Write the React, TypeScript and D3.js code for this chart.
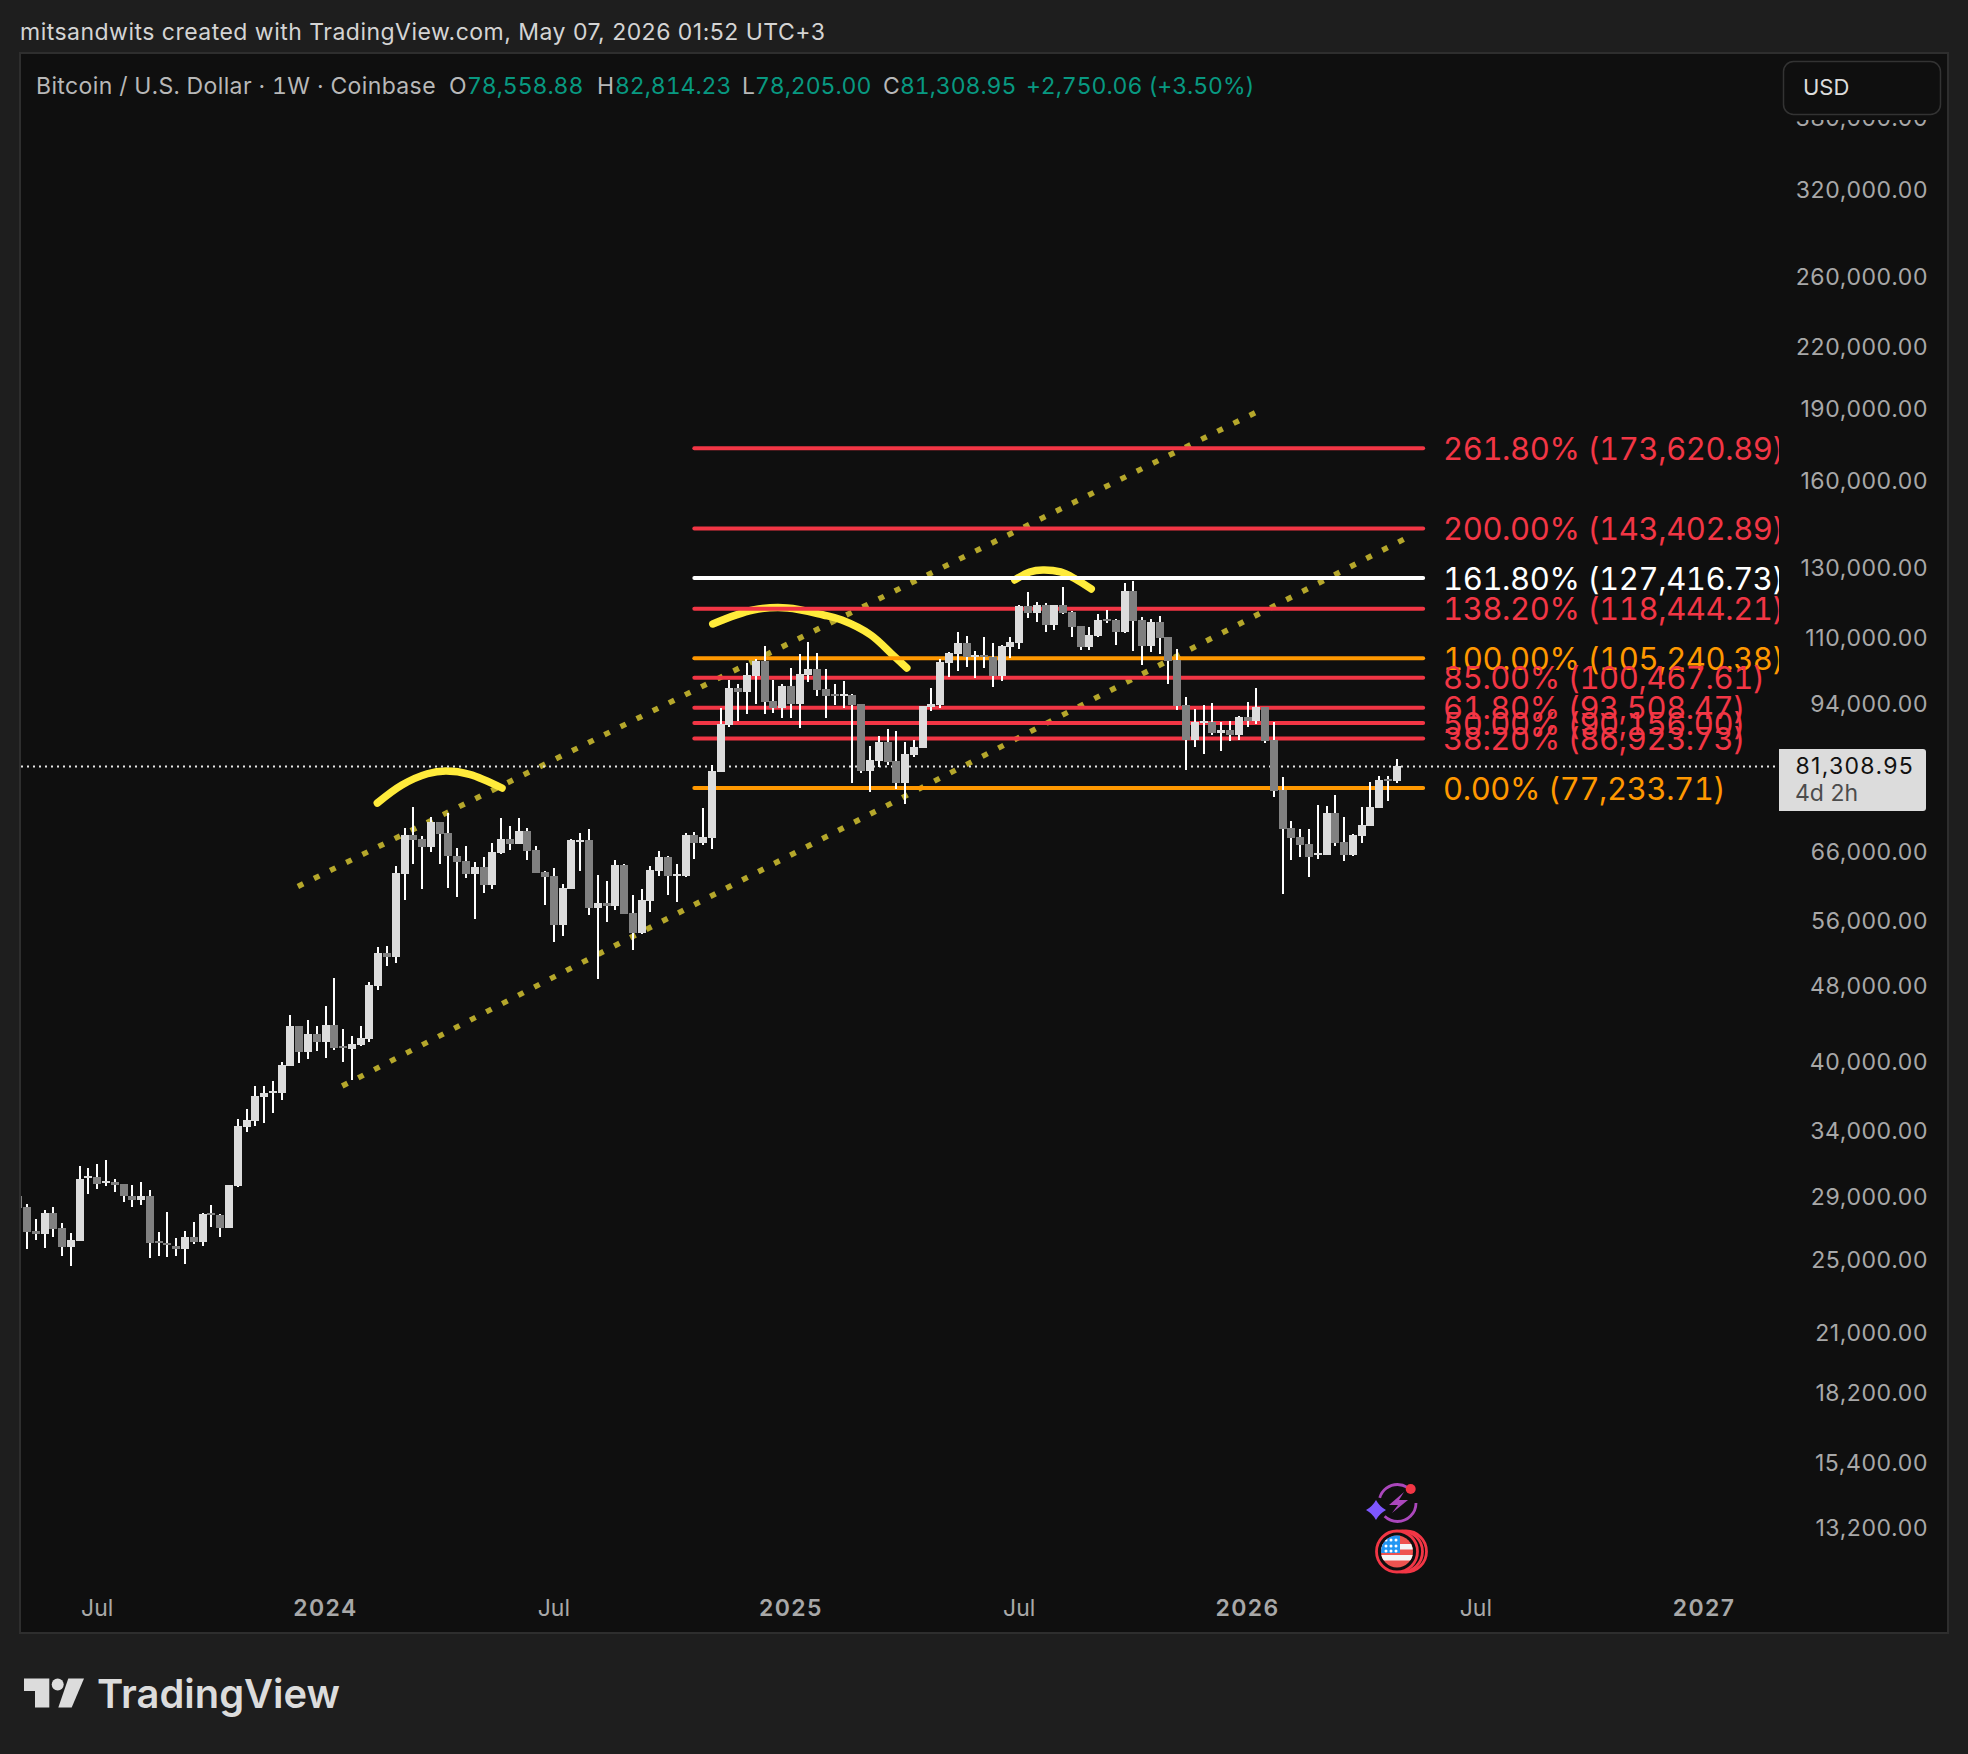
import { useEffect, useRef } from 'react';
import * as d3 from 'd3';

// weekly BTCUSD candles, first bar is the week of 2023-05-01
const opens = [
  29194, 28439, 26853, 26664, 28032, 27050, 25852, 26224, 30475, 30548,
  30112, 30183, 30041, 29194, 28915, 29194, 26224, 26100, 25914, 25722,
  26475, 26162, 28032, 27900, 27050, 29899, 34416, 34908, 36968, 37320,
  37320, 39805, 43787, 41153, 42961, 42150, 43891, 41750, 41447, 41850,
  42450, 48171, 52111, 51619, 62914, 69046, 68387, 67099, 71215, 69373,
  65674, 64889, 62914, 63974, 61286, 66139, 68387, 67579, 69701, 66619,
  63213, 62616, 55711, 60694, 68059, 68219, 58016, 58710, 58293, 64279,
  57326, 54656, 58990, 63364, 65518, 62616, 62616, 69046, 67739, 68554,
  80242, 89752, 98030, 97093, 100875, 104538, 95029, 93465, 98499, 94359,
  101115, 102555, 97779, 96635, 96178, 96406, 94359, 80421, 82358, 86187,
  82358, 78157, 83561, 84963, 93690, 94135, 104047, 106306, 109133, 105551,
  106057, 105551, 100875, 108098, 109133, 119199, 117220, 119484, 113920, 119484,
  117497, 113648, 108098, 110970, 115555, 115270, 112026, 123527, 115270, 108355,
  114737, 110706, 104794, 94135, 86587, 90178, 90391, 88053, 88680, 87637,
  91480, 90604, 93690, 86587, 76860, 70208, 68717, 67579, 65830, 65830,
  72761, 67900, 65830, 68882, 70543, 73637, 78908, 78558.88,
];
const highs = [
  29400, 28643, 27635, 28230, 28439, 27375, 26727, 31360, 31210, 31510,
  31810, 30396, 30041, 29970, 30183, 29607, 26790, 28098, 26412, 26853,
  27440, 28032, 28575, 27966, 29970, 35072, 35918, 37950, 37950, 38400,
  40186, 44952, 43787, 44411, 43787, 45926, 49098, 43471, 42757, 43787,
  48631, 52864, 52990, 64126, 70208, 73813, 68882, 72074, 71215, 72761,
  66939, 67259, 64736, 65518, 67739, 71902, 70543, 71902, 70208, 67259,
  63364, 63821, 61431, 68387, 69373, 70029, 62765, 61868, 65050, 64431,
  59848, 60694, 64126, 66459, 65674, 64431, 69373, 69537, 73637, 81587,
  93465, 99904, 98967, 104047, 105046, 108355, 99904, 98967, 102818, 106306,
  109386, 106557, 102555, 98967, 99670, 96635, 94359, 85369, 87429, 88885,
  88469, 86187, 86600, 93912, 98030, 105046, 106810, 112026, 110970, 107065,
  110706, 109133, 108614, 110706, 119484, 123244, 120342, 120055, 119484, 124725,
  117775, 113648, 113377, 116943, 118065, 115555, 125913, 126507, 116112, 115555,
  116390, 110706, 107564, 95950, 93243, 94135, 94580, 90391, 90604, 91700,
  94805, 98030, 93690, 90391, 79290, 71390, 70029, 70029, 74170, 73990,
  75950, 72074, 69209, 73813, 78350, 79480, 79480, 82814.23,
];
const lows = [
  28032, 25722, 26286, 25790, 26475, 25302, 24707, 26224, 29331, 29676,
  29899, 29469, 28779, 28439, 28575, 25182, 25302, 25242, 25302, 24825,
  26038, 25914, 27115, 26475, 27050, 29828, 34005, 34498, 34744, 35582,
  36699, 39805, 40090, 40470, 41250, 40571, 41347, 40186, 38490, 41750,
  42150, 47707, 50522, 50882, 59125, 64431, 60694, 66299, 64431, 60850,
  59558, 62318, 56504, 60126, 60694, 65987, 66619, 67579, 65050, 63063,
  58436, 53494, 54270, 60694, 63364, 57055, 48972, 56107, 57732, 57197,
  52481, 54527, 57469, 62616, 59848, 58845, 62467, 65206, 67419, 66768,
  80242, 89326, 90604, 92135, 94359, 92135, 92353, 91263, 91263, 89113,
  99436, 96178, 91263, 94135, 93465, 78157, 80043, 76496, 81200, 81587,
  77050, 74341, 83160, 84963, 92798, 93465, 100635, 102075, 103064, 100395,
  102818, 98264, 99670, 105299, 107564, 115836, 114737, 112026, 112570, 116943,
  110706, 107312, 107312, 110706, 114459, 108614, 111760, 107065, 103555, 106810,
  106306, 98967, 93020, 80620, 85167, 83760, 87637, 84360, 86400, 86587,
  89326, 89965, 85975, 75595, 59980, 65050, 65518, 62467, 65206, 65830,
  67259, 64889, 65674, 67739, 70543, 73637, 74880, 78205.0,
];
const closes = [
  28371, 26790, 26664, 28032, 26979, 25852, 26286, 30396, 30621, 30041,
  30254, 29970, 29194, 28915, 29194, 26100, 26100, 25976, 25722, 26475,
  26162, 27966, 27900, 27050, 29970, 34498, 34990, 37056, 37320, 37496,
  39900, 43787, 41153, 42961, 42150, 43891, 41550, 41550, 41950, 42553,
  48286, 52111, 51619, 63063, 69046, 68219, 67099, 71215, 69209, 65674,
  64736, 62914, 63974, 61286, 66299, 68387, 67579, 69701, 66459, 63063,
  62467, 55711, 60850, 68219, 68300, 58016, 58710, 58293, 64279, 57197,
  54656, 59125, 63517, 65518, 62616, 62914, 69046, 67739, 68717, 80421,
  89965, 98030, 97093, 101115, 104538, 94805, 93465, 98499, 94359, 101355,
  102555, 97550, 96178, 96178, 96635, 94135, 80421, 82555, 86187, 82161,
  78157, 83760, 85167, 93912, 94359, 104290, 106557, 109133, 105551, 106057,
  105551, 100875, 108355, 109386, 119199, 117220, 119484, 113920, 119484, 117220,
  113377, 108098, 111234, 115270, 114990, 112026, 123527, 114990, 108355, 114737,
  110442, 104538, 93912, 86587, 90391, 90604, 88053, 88680, 87637, 91480,
  90604, 93690, 86400, 76676, 70029, 68554, 67419, 65518, 66139, 72761,
  67739, 65830, 69046, 70710, 73813, 78720, 78558.88, 81308.95,
];

const lastPrice = 81308.95;

const priceTicks = [
  380000, 320000, 260000, 220000, 190000, 160000, 130000, 110000, 94000, 66000,
  56000, 48000, 40000, 34000, 29000, 25000, 21000, 18200, 15400, 13200,
];

const timeTickDates = ['2023-07-03', '2024-01-01', '2024-07-01', '2025-01-06', '2025-07-07', '2026-01-05', '2026-07-06', '2027-01-04'];
const timeTickLabels = ['Jul', '2024', 'Jul', '2025', 'Jul', '2026', 'Jul', '2027'];

const fibRatios = ['261.80', '200.00', '161.80', '138.20', '100.00', '85.00', '61.80', '50.00', '38.20', '0.00'];
const fibPrices = [173620.89, 143402.89, 127416.73, 118444.21, 105240.38, 100467.61, 93508.47, 90156.0, 86923.73, 77233.71];
const fibColors = ['#f23645', '#f23645', '#ffffff', '#f23645', '#ff9800', '#f23645', '#f23645', '#f23645', '#f23645', '#ff9800'];
const fibStartBar = 77;
const fibEndBar = 160;

// drawings, as [bar number, price]
const channelUpper: [number, number][] = [[31.85, 61070], [141.5, 190200]];
const channelLower: [number, number][] = [[36.9, 37950], [158.0, 140050]];
const brushLeft: [number, number][] = [[40.9, 74517], [43.7, 77790], [46.6, 79900], [48.7, 80430], [51.4, 79800], [55.1, 77234]];
const brushMiddle: [number, number][] = [[79.1, 114188], [83.7, 118065], [87.6, 118650], [91.7, 116660], [93.8, 115270], [97.1, 111234], [99.6, 106057], [101.2, 102818]];
const brushRight: [number, number][] = [[113.5, 126830], [115.2, 129260], [116.7, 129875], [118.7, 129260], [120.4, 127120], [122.2, 124130]];

const legendParts: [string, number, string][] = [
  ['Bitcoin / U.S. Dollar · 1W · Coinbase', 36, '#b8b8b8'],
  ['O', 449, '#b8b8b8'], ['78,558.88', 467, '#089981'],
  ['H', 597, '#b8b8b8'], ['82,814.23', 615, '#089981'],
  ['L', 742, '#b8b8b8'], ['78,205.00', 755, '#089981'],
  ['C', 883, '#b8b8b8'], ['81,308.95', 900, '#089981'],
  ['+2,750.06 (+3.50%)', 1026, '#089981'],
];

const FONT = 'Inter, "Noto Sans", sans-serif';
const W = 1968;
const H = 1754;
const firstWeek = Date.UTC(2023, 4, 1);
const WEEK = 7 * 24 * 3600 * 1000;

export default function App() {
  const svgRef = useRef<SVGSVGElement>(null);

  useEffect(() => {
    if (!svgRef.current) return;
    const svg = d3.select(svgRef.current);
    svg.selectAll('*').remove();

    const panel = { left: 21, right: 1947, top: 54, bottom: 1632 };
    const plotRight = 1779;

    const x = d3.scaleUtc()
      .domain([new Date(firstWeek), new Date(firstWeek + 157 * WEEK)])
      .range([18.2, 1396.8]);
    const y = d3.scaleLog()
      .domain([fibPrices[9], fibPrices[2]])
      .range([788, 578]);
    const xBar = (b: number) => x(new Date(firstWeek + b * WEEK));

    svg.append('rect').attr('width', W).attr('height', H).attr('fill', '#1e1e1e');
    svg.append('rect')
      .attr('x', panel.left - 1).attr('y', panel.top - 1)
      .attr('width', panel.right - panel.left + 2).attr('height', panel.bottom - panel.top + 2)
      .attr('fill', '#0f0f0f').attr('stroke', '#2e2e2e').attr('stroke-width', 2);

    const defs = svg.append('defs');
    defs.append('clipPath').attr('id', 'plot-clip').append('rect')
      .attr('x', panel.left).attr('y', panel.top)
      .attr('width', plotRight - panel.left).attr('height', panel.bottom - panel.top);
    defs.append('clipPath').attr('id', 'axis-clip').append('rect')
      .attr('x', plotRight).attr('y', 120)
      .attr('width', panel.right - plotRight).attr('height', panel.bottom - 120);
    defs.append('clipPath').attr('id', 'flag-clip').append('circle')
      .attr('cx', 1397).attr('cy', 1551.5).attr('r', 16);

    // header
    svg.append('text').attr('x', 20).attr('y', 32)
      .attr('dominant-baseline', 'central')
      .attr('font-family', FONT).attr('font-size', 23).attr('letter-spacing', 0.48)
      .attr('fill', '#d4d4d4')
      .text('mitsandwits created with TradingView.com, May 07, 2026 01:52 UTC+3');

    svg.append('g').selectAll('text').data(legendParts).join('text')
      .attr('x', d => d[1]).attr('y', 86)
      .attr('dominant-baseline', 'central')
      .attr('font-family', FONT).attr('font-size', 23)
      .attr('letter-spacing', d => (d[0].startsWith('Bitcoin') ? 0.37 : -0.05))
      .style('font-variant-numeric', 'tabular-nums')
      .attr('fill', d => d[2])
      .text(d => d[0]);

    const plot = svg.append('g').attr('clip-path', 'url(#plot-clip)');

    // dotted channel lines
    const straight = d3.line<[number, number]>().x(d => xBar(d[0])).y(d => y(d[1]));
    [channelUpper, channelLower].forEach(pts => {
      plot.append('path')
        .attr('d', straight(pts))
        .attr('fill', 'none')
        .attr('stroke', '#b5a72b')
        .attr('stroke-width', 5.5)
        .attr('stroke-dasharray', '6 12');
    });

    // yellow brush strokes
    const brush = d3.line<[number, number]>()
      .x(d => xBar(d[0])).y(d => y(d[1]))
      .curve(d3.curveCatmullRom);
    [brushLeft, brushMiddle, brushRight].forEach(pts => {
      plot.append('path')
        .attr('d', brush(pts))
        .attr('fill', 'none')
        .attr('stroke', '#ffeb3b')
        .attr('stroke-width', 7.5)
        .attr('stroke-linecap', 'round')
        .attr('stroke-linejoin', 'round');
    });

    // last price line
    plot.append('line')
      .attr('x1', panel.left).attr('x2', plotRight)
      .attr('y1', y(lastPrice)).attr('y2', y(lastPrice))
      .attr('stroke', '#e6e6e6').attr('stroke-width', 2)
      .attr('stroke-dasharray', '2 4');

    // fib levels
    plot.append('g').selectAll('line').data(fibPrices).join('line')
      .attr('x1', xBar(fibStartBar)).attr('x2', xBar(fibEndBar))
      .attr('y1', d => y(d)).attr('y2', d => y(d))
      .attr('stroke', (_, i) => fibColors[i])
      .attr('stroke-width', 4)
      .attr('stroke-linecap', 'round');

    plot.append('g').selectAll('text').data(fibPrices).join('text')
      .attr('x', 1443).attr('y', d => y(d))
      .attr('dominant-baseline', 'central')
      .attr('font-family', FONT).attr('font-size', 31).attr('letter-spacing', -0.4)
      .style('font-variant-numeric', 'tabular-nums')
      .attr('fill', (_, i) => fibColors[i])
      .text((d, i) => `${fibRatios[i]}% (${d3.format(',.2f')(d)})`);

    // candles
    const bars = d3.range(opens.length);
    const candles = plot.append('g').attr('shape-rendering', 'crispEdges');
    candles.selectAll('rect.wick').data(bars).join('rect')
      .attr('class', 'wick')
      .attr('x', i => Math.round(xBar(i)) - 1).attr('width', 2)
      .attr('y', i => Math.round(y(highs[i])))
      .attr('height', i => Math.max(1, Math.round(y(lows[i])) - Math.round(y(highs[i]))))
      .attr('fill', '#ffffff');
    candles.selectAll('rect.body').data(bars).join('rect')
      .attr('class', 'body')
      .attr('x', i => Math.round(xBar(i)) - 4).attr('width', 8)
      .attr('y', i => Math.round(y(Math.max(opens[i], closes[i]))))
      .attr('height', i => Math.max(2, Math.round(y(Math.min(opens[i], closes[i]))) - Math.round(y(Math.max(opens[i], closes[i])))))
      .attr('fill', i => (closes[i] >= opens[i] ? '#dcdcdc' : '#808080'));

    // price axis
    svg.append('g').attr('clip-path', 'url(#axis-clip)')
      .selectAll('text').data(priceTicks).join('text')
      .attr('x', 1928).attr('y', d => y(d) - 1.5)
      .attr('text-anchor', 'end')
      .attr('dominant-baseline', 'central')
      .attr('font-family', FONT).attr('font-size', 23).attr('letter-spacing', 0.6)
      .attr('fill', '#a8a8a8')
      .text(d => d3.format(',.2f')(d));

    // last price tag
    svg.append('path')
      .attr('d', 'M1779,749H1923a3,3 0 0 1 3,3V808a3,3 0 0 1 -3,3H1779Z')
      .attr('fill', '#dcdcdc');
    svg.append('text').attr('x', 1914).attr('y', 766)
      .attr('text-anchor', 'end').attr('dominant-baseline', 'central')
      .attr('font-family', FONT).attr('font-size', 23).attr('letter-spacing', 1.3).attr('fill', '#111111')
      .text(d3.format(',.2f')(lastPrice));
    svg.append('text').attr('x', 1795).attr('y', 793)
      .attr('dominant-baseline', 'central')
      .attr('font-family', FONT).attr('font-size', 23).attr('fill', '#4c4c4c')
      .text('4d 2h');

    // currency box
    svg.append('rect')
      .attr('x', 1783.5).attr('y', 61.5).attr('width', 157).attr('height', 53).attr('rx', 10)
      .attr('fill', '#0f0f0f').attr('stroke', '#333333').attr('stroke-width', 1.5);
    svg.append('text').attr('x', 1803).attr('y', 87)
      .attr('dominant-baseline', 'central')
      .attr('font-family', FONT).attr('font-size', 22).attr('fill', '#dcdcdc')
      .text('USD');

    // time axis
    svg.append('g').selectAll('text').data(timeTickDates).join('text')
      .attr('x', d => x(new Date(d + 'T00:00:00Z'))).attr('y', 1608)
      .attr('text-anchor', 'middle')
      .attr('dominant-baseline', 'central')
      .attr('font-family', FONT).attr('font-size', 23)
      .attr('font-weight', (_, i) => (timeTickLabels[i] === 'Jul' ? 400 : 600))
      .attr('letter-spacing', (_, i) => (timeTickLabels[i] === 'Jul' ? 0 : 1.4))
      .attr('fill', '#a8a8a8')
      .text((_, i) => timeTickLabels[i]);

    // event icons at the bottom of the plot
    const icons = svg.append('g');
    icons.append('circle').attr('cx', 1397.5).attr('cy', 1503).attr('r', 18.5)
      .attr('fill', 'none').attr('stroke', '#ab47bc').attr('stroke-width', 2.8)
      .attr('stroke-dasharray', '43 20 34 19');
    icons.append('path').attr('d', 'M1404,1492L1389,1505L1398,1505L1392,1513L1408,1500L1399,1500Z')
      .attr('fill', '#ab47bc');
    icons.append('circle').attr('cx', 1410.7).attr('cy', 1489).attr('r', 5).attr('fill', '#f23645');
    icons.append('path').attr('d', 'M1376,1500Q1379.5,1506.5 1386,1510Q1379.5,1513.5 1376,1520Q1372.5,1513.5 1366,1510Q1372.5,1506.5 1376,1500Z')
      .attr('fill', '#7e57ff');
    icons.append('circle').attr('cx', 1406).attr('cy', 1551.5).attr('r', 20.5)
      .attr('fill', '#0f0f0f').attr('stroke', '#f23645').attr('stroke-width', 2.8);
    icons.append('circle').attr('cx', 1402).attr('cy', 1551.5).attr('r', 20.5)
      .attr('fill', '#0f0f0f').attr('stroke', '#f23645').attr('stroke-width', 2.8);
    icons.append('circle').attr('cx', 1397).attr('cy', 1551.5).attr('r', 20.5)
      .attr('fill', '#0f0f0f').attr('stroke', '#f23645').attr('stroke-width', 2.8);
    const flag = icons.append('g').attr('clip-path', 'url(#flag-clip)');
    flag.append('rect').attr('x', 1381).attr('y', 1535).attr('width', 32).attr('height', 33).attr('fill', '#ef5350');
    [1544, 1555].forEach(sy => {
      flag.append('rect').attr('x', 1381).attr('y', sy).attr('width', 32).attr('height', 5.5).attr('fill', '#f5f5f5');
    });
    flag.append('rect').attr('x', 1381).attr('y', 1535).attr('width', 19).attr('height', 18).attr('fill', '#2196f3');
    [1540, 1546, 1551].forEach(sy => {
      [1386, 1391, 1396].forEach(sx => {
        flag.append('circle').attr('cx', sx).attr('cy', sy).attr('r', 1.5).attr('fill', '#ffffff');
      });
    });

    // footer logo
    const logo = svg.append('g').attr('fill', '#dcdcdc');
    logo.append('path').attr('d', 'M24,1678.5H49.3V1707.5H35V1691H24Z');
    logo.append('circle').attr('cx', 57.7).attr('cy', 1684.5).attr('r', 6);
    logo.append('path').attr('d', 'M68.3,1678.5H84L71.7,1707.5H58.3Z');
    logo.append('text').attr('x', 97).attr('y', 1707.5)
      .attr('font-family', FONT).attr('font-size', 40).attr('font-weight', 600)
      .attr('textLength', 243).attr('lengthAdjust', 'spacingAndGlyphs')
      .text('TradingView');
  }, []);

  return (
    <svg
      ref={svgRef}
      width={W}
      height={H}
      style={{ position: 'absolute', left: 0, top: 0 }}
    />
  );
}
